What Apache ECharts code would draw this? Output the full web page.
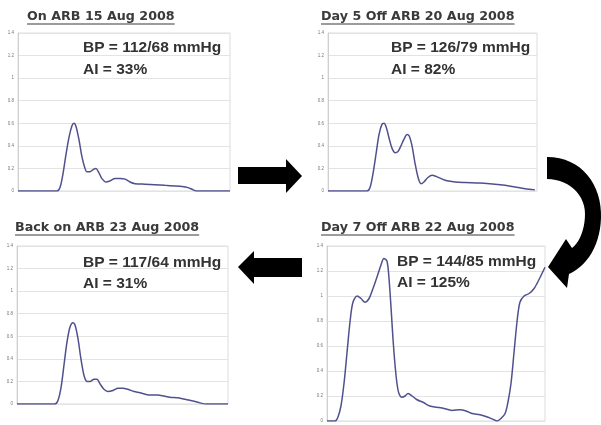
<!DOCTYPE html>
<html>
<head>
<meta charset="utf-8">
<script src="https://cdn.jsdelivr.net/npm/echarts@6/dist/echarts.min.js"></script>
<style>html,body{margin:0;padding:0;background:#fff;}#c{width:601px;height:425px;}</style>
</head>
<body>
<div id="c"></div>
<script>
// ---- Data (x = normalised sample position 0..100, y = normalised amplitude) ----
const titles = ['On ARB 15 Aug 2008', 'Day 5 Off ARB 20 Aug 2008', 'Back on ARB 23 Aug 2008', 'Day 7 Off ARB 22 Aug 2008'];
const bpTexts = ['BP = 112/68 mmHg', 'BP = 126/79 mmHg', 'BP = 117/64 mmHg', 'BP = 144/85 mmHg'];
const aiTexts = ['AI = 33%', 'AI = 82%', 'AI = 31%', 'AI = 125%'];
const yTicks = [0, 0.2, 0.4, 0.6, 0.8, 1, 1.2, 1.4];

const x1 = [0, 18.4, 19.8, 21.2, 22.6, 24.1, 25.5, 26.4, 27.4, 28.8, 30.2, 31.6, 32.5, 34, 35.4, 36.8, 38.2, 39.6, 41.5, 43.4, 45.8, 48.1, 50.5, 52.8, 55.2, 59.9, 64.6, 69.3, 74.1, 77.4, 80.2, 82.1, 84, 100];
const y1 = [0, 0, 0.03, 0.15, 0.32, 0.48, 0.58, 0.6, 0.57, 0.45, 0.3, 0.2, 0.17, 0.17, 0.19, 0.2, 0.16, 0.11, 0.08, 0.09, 0.11, 0.11, 0.105, 0.08, 0.065, 0.06, 0.055, 0.05, 0.045, 0.04, 0.03, 0.015, 0, 0];

const x2 = [0, 18.7, 20.1, 21.5, 23, 24.4, 25.8, 26.8, 27.8, 29.2, 30.6, 32.1, 33.5, 34.9, 36.4, 37.8, 38.8, 40.2, 41.6, 43.1, 44.5, 45.9, 47.8, 49.8, 51.7, 54.1, 56.9, 60.8, 65.6, 72.7, 79.9, 84.7, 89.5, 94.3, 99];
const y2 = [0, 0, 0.03, 0.15, 0.33, 0.5, 0.59, 0.6, 0.57, 0.47, 0.38, 0.34, 0.35, 0.4, 0.46, 0.5, 0.49, 0.4, 0.25, 0.12, 0.065, 0.08, 0.12, 0.14, 0.13, 0.11, 0.09, 0.08, 0.075, 0.07, 0.06, 0.05, 0.035, 0.02, 0.01];

const x3 = [0, 18, 19.4, 20.9, 22.3, 23.7, 25.1, 26.5, 27.5, 28.9, 30.3, 31.8, 33.2, 34.6, 36.5, 37.9, 39.3, 41.2, 43.1, 45.5, 47.9, 50.2, 52.6, 55.5, 58.3, 61.1, 64, 66.8, 69.7, 72.5, 76.3, 80.1, 83.9, 86.7, 89.6, 100];
const y3 = [0, 0, 0.03, 0.15, 0.35, 0.55, 0.68, 0.72, 0.7, 0.58, 0.4, 0.25, 0.2, 0.2, 0.22, 0.22, 0.18, 0.13, 0.11, 0.12, 0.14, 0.14, 0.13, 0.11, 0.1, 0.085, 0.08, 0.08, 0.07, 0.06, 0.055, 0.04, 0.025, 0.01, 0, 0];

const x4 = [0, 3.7, 5, 6.4, 7.8, 9.2, 10.6, 11.9, 13.8, 15.6, 17.4, 19.3, 21.1, 22.9, 24.8, 26.1, 27.5, 28.4, 29.4, 30.3, 31.2, 32.1, 33, 34.4, 35.8, 37.2, 39, 41.3, 44, 47.2, 50.5, 53.7, 57.3, 61, 63.8, 66.5, 70.2, 73.9, 76.6, 78, 79.8, 81.7, 83, 84.4, 85.8, 87.2, 88.5, 90.4, 92.7, 95, 97.2, 100];
const y4 = [0, 0, 0.03, 0.12, 0.3, 0.55, 0.8, 0.95, 1.0, 0.98, 0.95, 0.98, 1.06, 1.15, 1.25, 1.3, 1.28, 1.15, 0.9, 0.65, 0.45, 0.3, 0.22, 0.19, 0.2, 0.22, 0.2, 0.17, 0.15, 0.12, 0.11, 0.1, 0.085, 0.09, 0.08, 0.06, 0.05, 0.03, 0.01, 0, 0.02, 0.06, 0.15, 0.3, 0.55, 0.8, 0.95, 1.0, 1.02, 1.06, 1.13, 1.23];

const xs = [x1, x2, x3, x4];
const ys = [y1, y2, y3, y4];

// ---- Layout ----
const grids = [
  {left: 18, top: 33, width: 212, height: 158},
  {left: 328, top: 33, width: 209, height: 158},
  {left: 17, top: 246, width: 211, height: 158},
  {left: 327, top: 246, width: 218, height: 175}
];
const titlePos = [[27, 17], [321, 17], [15, 228], [321, 228]];
const textPos = [[83, 48, 70], [391, 48, 70], [83, 263, 284], [397, 262, 283]];

const chart = echarts.init(document.getElementById('c'), null, {renderer: 'canvas'});

const titleFont = 'bold 12.7px "DejaVu Sans"';
const ctx = document.createElement('canvas').getContext('2d');
ctx.font = titleFont;

const graphic = [];
titles.forEach((t, i) => {
  const [tx, ty] = titlePos[i];
  graphic.push({type: 'text', silent: true, style: {x: tx, y: ty, text: t, font: titleFont, fill: '#3a3a3a', textAlign: 'left', textVerticalAlign: 'middle'}});
  const w = ctx.measureText(t).width;
  graphic.push({type: 'line', silent: true, shape: {x1: tx, y1: ty + 7, x2: tx + w, y2: ty + 7}, style: {stroke: '#3a3a3a', lineWidth: 1.2}});
  const [bx, by, ay] = textPos[i];
  graphic.push({type: 'text', silent: true, z: 10, style: {x: bx, y: by, text: bpTexts[i], font: 'bold 15.5px "Liberation Sans"', fill: '#333', textAlign: 'left', textVerticalAlign: 'middle'}});
  graphic.push({type: 'text', silent: true, z: 10, style: {x: bx, y: ay, text: aiTexts[i], font: 'bold 15.5px "Liberation Sans"', fill: '#333', textAlign: 'left', textVerticalAlign: 'middle'}});
});
// arrows
graphic.push({type: 'polygon', silent: true, shape: {points: [[238,167],[286,167],[286,159],[302,176],[286,193],[286,184],[238,184]]}, style: {fill: '#000'}});
graphic.push({type: 'polygon', silent: true, shape: {points: [[302,258],[254,258],[254,251],[238,267],[254,284],[254,277],[302,277]]}, style: {fill: '#000'}});

// curved arrow outline built from cubic bezier segments
function bez(p0, p1, p2, p3, n) {
  const out = [];
  for (let k = 0; k <= n; k++) {
    const t = k / n, u = 1 - t;
    out.push([u*u*u*p0[0] + 3*u*u*t*p1[0] + 3*u*t*t*p2[0] + t*t*t*p3[0],
              u*u*u*p0[1] + 3*u*u*t*p1[1] + 3*u*t*t*p2[1] + t*t*t*p3[1]]);
  }
  return out;
}
let curve = [];
curve = curve.concat(bez([547,157],[582,157],[602,185],[601,218], 16));
curve = curve.concat(bez([601,218],[600,245],[588,265],[569,274], 14));
curve.push([567,288],[548,267],[566,239],[572,248]);
curve = curve.concat(bez([572,248],[580,242],[585,228],[585,214], 10));
curve = curve.concat(bez([585,214],[585,194],[568,179],[547,179], 14));
graphic.push({type: 'polygon', silent: true, shape: {points: curve}, style: {fill: '#000'}});

const option = {
  backgroundColor: '#fff',
  animation: false,
  grid: grids.map(g => Object.assign({show: true, borderColor: '#dcdcdc', borderWidth: 1, backgroundColor: 'transparent'}, g)),
  xAxis: grids.map((g, i) => ({type: 'value', gridIndex: i, min: 0, max: 100, show: false})),
  yAxis: grids.map((g, i) => ({
    type: 'value', gridIndex: i, min: yTicks[0], max: yTicks[yTicks.length - 1], interval: 0.2,
    axisLine: {show: true, lineStyle: {color: '#cfcfcf'}},
    axisTick: {show: false},
    axisLabel: {fontSize: 4.5, color: '#777', margin: 4, fontFamily: 'Liberation Sans'},
    splitLine: {lineStyle: {color: '#e3e3e3', width: 1}}
  })),
  series: xs.map((x, i) => ({
    type: 'line', xAxisIndex: i, yAxisIndex: i,
    data: x.map((v, k) => [v, ys[i][k]]),
    smooth: 0.3, showSymbol: false,
    lineStyle: {color: '#50508e', width: 1.5}
  })),
  graphic: graphic
};
chart.setOption(option);
</script>
</body>
</html>
